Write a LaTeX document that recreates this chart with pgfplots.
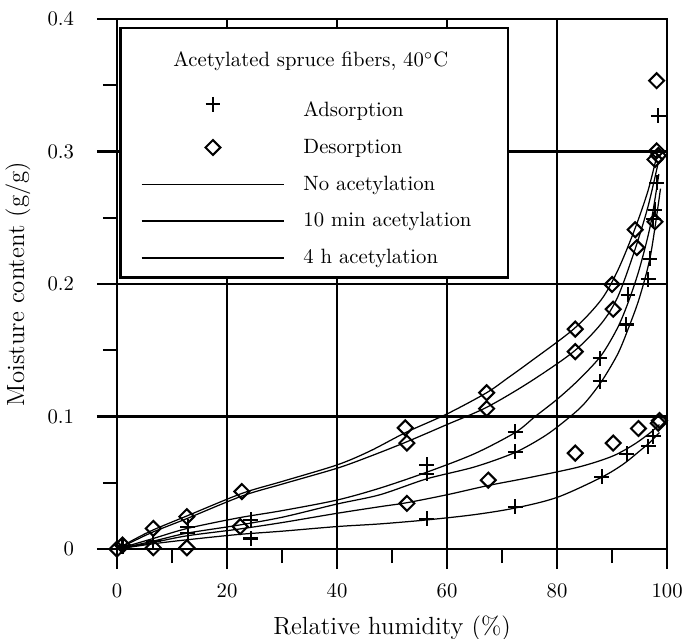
\documentclass[border=0pt]{standalone}
\usepackage{pgfplots}
\pgfplotsset{compat=1.18}
\pgfplotsset{
    markleg/.style={legend image code/.code={\draw[mark repeat=2, mark phase=2, only marks, ##1] plot coordinates {(0pt,0pt) (34.5pt,0pt) (69pt,0pt)};}},
    lineleg/.style={legend image code/.code={\draw[##1] (0pt,0pt) -- (69pt,0pt);}},
    noimg/.style={legend image code/.code={}},
}

\begin{document}
\begin{tikzpicture}
\useasboundingbox (-56.5pt,-43pt) rectangle (272.9pt,265.2pt);
\begin{axis}[
    scale only axis,
    width=265.7pt, height=256pt,
    xmin=0, xmax=100, ymin=0, ymax=0.4,
    xtick={0,20,40,60,80,100},
    ytick={0,0.1,0.2,0.3,0.4},
    yticklabels={0,0.1,0.2,0.3,0.4},
    minor xtick={10,30,50,70,90},
    minor ytick={0.05,0.15,0.25,0.35},
    tick pos=left,
    tick align=outside,
    major tick length=9.7pt,
    minor tick length=6.8pt,
    every major tick/.append style={black, line width=1.2pt},
    every minor tick/.append style={black, line width=1pt},
    xticklabel style={yshift=-3.6pt},
    yticklabel style={xshift=-7.5pt},
    grid=major,
    major grid style={black, line width=1.2pt},
    axis line style={line width=1.2pt},
    xlabel={Relative humidity (\%)},
    ylabel={Moisture content (g/g)},
    label style={font=\large},
    xlabel style={at={(axis description cs:0.5,-0.15)}, anchor=center},
    ylabel style={at={(axis description cs:-0.18,0.5)}, anchor=center},
    legend style={at={(axis cs:0.4,0.394)}, anchor=north west,
        draw=black, line width=1.2pt, fill=white,
        inner xsep=9.7pt, inner ysep=5.05pt,
        row sep=9.3pt,
        nodes={inner sep=0pt},
        /tikz/every odd column/.append style={column sep=8.7pt}},
    legend cell align=left,
]
% legend rows
\addlegendimage{noimg}
\addlegendentry{\raisebox{0pt}[13.6pt][2pt]{\hspace*{-62.8pt}Acetylated spruce fibers, 40$^{\circ}$C}}
\addlegendimage{black, line width=1pt, mark=+, mark size=3.6pt, markleg}
\addlegendentry{\raisebox{0pt}[13.1pt][2pt]{Adsorption}}
\addlegendimage{black, line width=1pt, mark=square, mark size=2.55pt, mark options={rotate=45}, markleg}
\addlegendentry{\raisebox{0pt}[7pt][2pt]{Desorption}}
\addlegendimage{black, line width=0.8pt, lineleg}
\addlegendentry{\raisebox{0pt}[7pt][2pt]{No acetylation}}
\addlegendimage{black, line width=0.9pt, lineleg}
\addlegendentry{\raisebox{0pt}[7pt][2pt]{10 min acetylation\hspace*{8pt}}}
\addlegendimage{black, line width=1pt, lineleg}
\addlegendentry{\raisebox{0pt}[7pt][2pt]{4 h acetylation}}

% fitted curves
\addplot[forget plot, black, line width=0.6pt, smooth] coordinates {
(0,0) (3,0.007) (6.6,0.0145) (12.7,0.025) (22.7,0.042) (30,0.051) (40,0.0635)
(46,0.074) (52.5,0.088) (60,0.102) (67.2,0.118) (71,0.129) (75,0.141) (83,0.166)
(88,0.188) (91,0.21) (94,0.24) (96.5,0.27) (98.2,0.298)};
\addplot[forget plot, black, line width=0.6pt, smooth] coordinates {
(0,0) (3,0.006) (6.6,0.013) (12.7,0.023) (22.7,0.04) (30,0.049) (40,0.061)
(46,0.07) (52.7,0.081) (60,0.094) (67.2,0.107) (75,0.126) (83,0.149) (88,0.17)
(91,0.19) (94,0.224) (96.5,0.258) (98.3,0.29)};
\addplot[forget plot, black, line width=0.6pt, smooth] coordinates {
(0,0) (6.6,0.008) (12.7,0.0155) (22,0.0235) (30,0.029) (40,0.037) (47.8,0.046)
(56.3,0.058) (65,0.072) (72.4,0.088) (76,0.1) (80,0.113) (84,0.128) (88,0.146)
(91,0.167) (93,0.187) (95,0.212) (97,0.245) (98.5,0.283)};
\addplot[forget plot, black, line width=0.6pt, smooth] coordinates {
(0,0) (6.6,0.006) (12.7,0.012) (22,0.018) (30,0.024) (40,0.034) (47.8,0.041)
(56.3,0.053) (65,0.062) (72.4,0.073) (78,0.086) (82.4,0.1) (85,0.11) (88,0.126)
(91,0.147) (93,0.167) (95,0.19) (97,0.222) (98.8,0.272)};
\addplot[forget plot, black, line width=0.6pt, smooth] coordinates {
(0,0) (6.6,0.005) (12.7,0.01) (22,0.015) (30,0.02) (40,0.027) (47.8,0.032)
(52.7,0.035) (60,0.041) (67.5,0.048) (75,0.054) (84,0.062) (90,0.07) (94,0.079)
(97,0.088) (98.6,0.094)};
\addplot[forget plot, black, line width=0.6pt, smooth] coordinates {
(0,0) (6.6,0.004) (12.7,0.007) (22,0.011) (30,0.0135) (40,0.017) (47.8,0.019)
(56.3,0.022) (65,0.026) (72.4,0.031) (80,0.039) (88,0.054) (92,0.064) (95,0.074)
(97,0.081) (98.6,0.088)};

% adsorption points
\addplot[forget plot, only marks, black, line width=1pt, mark=+, mark size=3.6pt] coordinates {
(0,0) (1,0.002) (6.6,0.006) (12.9,0.017) (12.9,0.012) (24.3,0.022) (24.3,0.008)
(56.3,0.0635) (56.3,0.057) (56.3,0.023) (72.4,0.0887) (72.4,0.0736) (72.4,0.032)
(87.8,0.144) (87.8,0.1266) (88.1,0.0547) (92.9,0.192) (92.6,0.1695) (92.7,0.072)
(96.6,0.2035) (96.9,0.219) (97.5,0.249) (97.8,0.256) (98.1,0.2766) (98.4,0.327)
(96.6,0.0776) (97.5,0.085)};
% desorption points
\addplot[forget plot, only marks, black, line width=1pt, mark=square, mark size=2.55pt, mark options={rotate=45}] coordinates {
(0,0) (1,0.003) (6.6,0.0156) (6.6,0.001) (12.7,0.0245) (12.7,0.001) (22.7,0.0434)
(22.4,0.017) (52.4,0.0915) (52.7,0.080) (52.7,0.0345) (67.2,0.118) (67.2,0.106)
(67.5,0.052) (83.3,0.166) (83.3,0.149) (83.3,0.0724) (90,0.1997) (90.2,0.181)
(90.2,0.080) (94.2,0.241) (94.5,0.2275) (94.8,0.091) (97.8,0.247) (97.8,0.294)
(98.1,0.3005) (98.4,0.297) (98.1,0.3535) (98.4,0.095) (98.6,0.097)};
\end{axis}
\end{tikzpicture}
\end{document}
